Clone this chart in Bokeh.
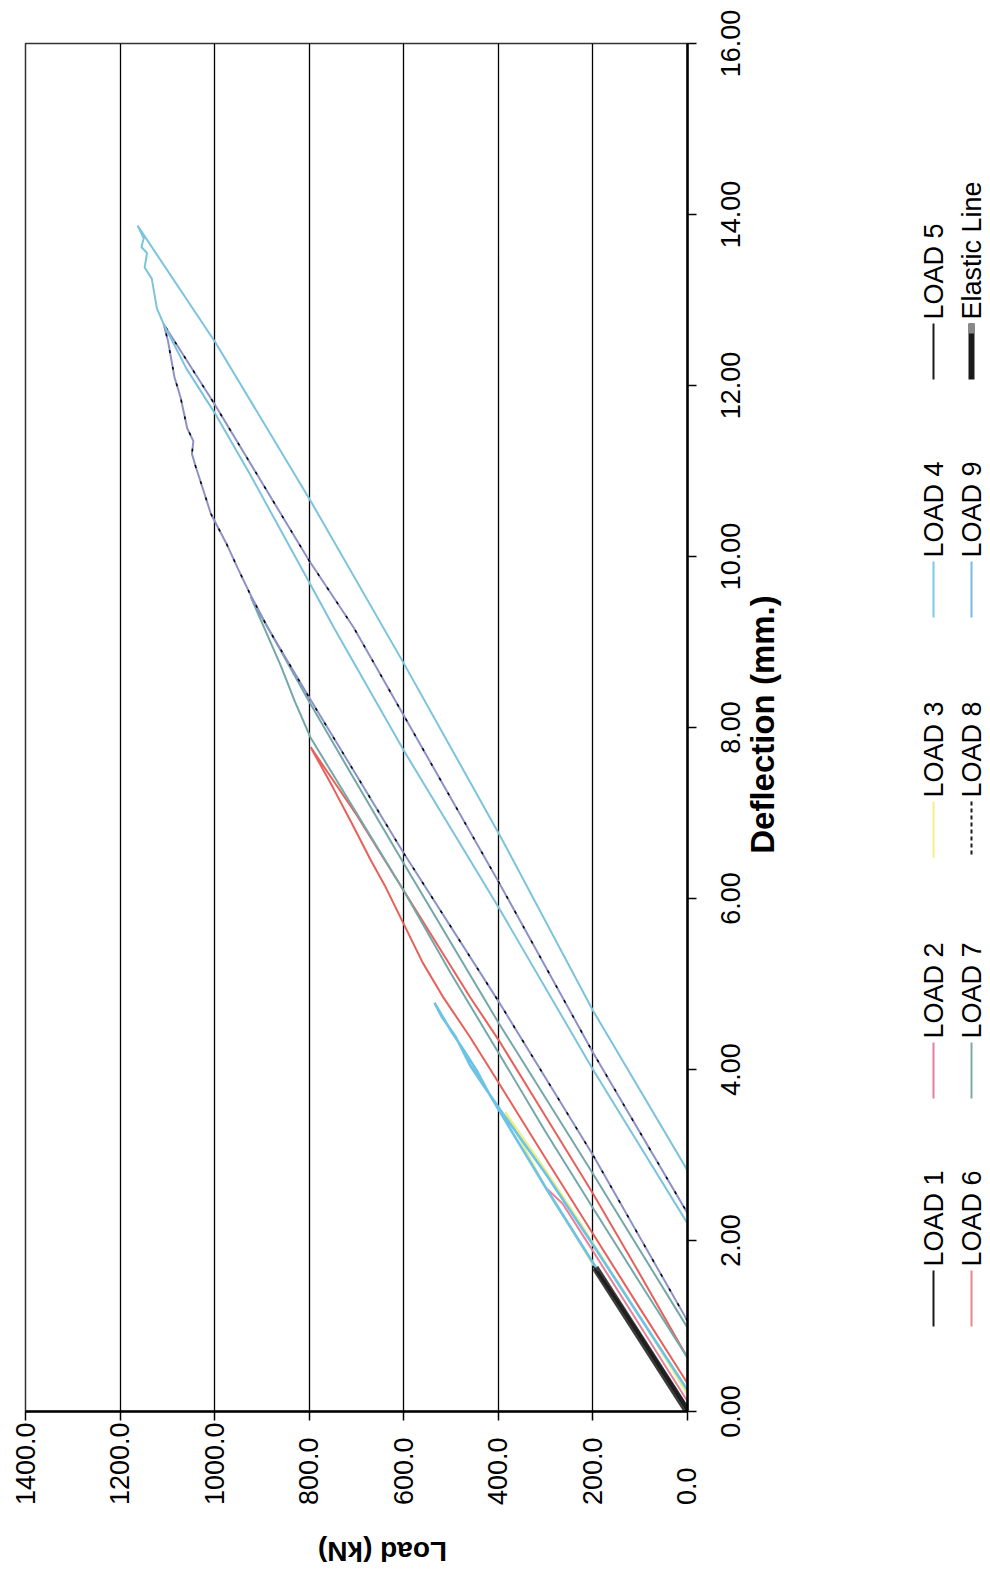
from math import pi
from bokeh.plotting import figure
from bokeh.layouts import column, row
from bokeh.models import Range1d, FixedTicker
from bokeh.core.properties import value
from bokeh.embed import file_html
from bokeh.resources import INLINE

# ---------------- data (Load in kN, Deflection in mm) ----------------
LOAD_TICKS = [0, 200, 400, 600, 800, 1000, 1200, 1400]
LOAD_LABELS = ["0.0", "200.0", "400.0", "600.0", "800.0", "1000.0", "1200.0", "1400.0"]
DEFL_TICKS = [0, 2, 4, 6, 8, 10, 12, 14, 16]
DEFL_LABELS = ["0.00", "2.00", "4.00", "6.00", "8.00", "10.00", "12.00", "14.00", "16.00"]

ELASTIC_P = [0, 195]
ELASTIC_D = [0, 1.68]

L1_P = [0, 50, 100, 150, 190, 150, 100, 50, 0]
L1_D = [0, 0.43, 0.86, 1.29, 1.64, 1.32, 0.90, 0.46, 0.03]

L2_P = [0, 100, 200, 264, 300, 264, 205, 100, 0]
L2_D = [0.03, 0.88, 1.74, 2.30, 2.62, 2.43, 1.92, 1.00, 0.12]

L3_P = [0, 100, 200, 300, 385, 300, 226, 100, 0]
L3_D = [0.02, 0.87, 1.72, 2.62, 3.50, 2.82, 2.20, 1.10, 0.20]

L4_P = [0, 100, 200, 300, 395, 420, 445, 470, 500, 535, 520, 490, 460, 430, 395, 300, 200, 100, 0]
L4_D = [0, 0.86, 1.74, 2.62, 3.49, 3.72, 3.98, 4.20, 4.45, 4.78, 4.62, 4.38, 4.05, 3.80, 3.52, 2.78, 1.95, 1.10, 0.25]

L5_P = [0, 100, 200, 100, 0]
L5_D = [0.02, 0.87, 1.70, 0.90, 0.05]

L6_P = [0, 100, 200, 300, 400, 460, 516, 560, 600, 640, 670, 710, 750, 797,
        700, 600, 459, 400, 300, 200, 100, 0]
L6_D = [0.33, 1.20, 2.08, 2.96, 3.85, 4.38, 4.84, 5.25, 5.70, 6.15, 6.45, 6.88, 7.30, 7.77,
        6.98, 6.09, 4.84, 4.35, 3.45, 2.55, 1.60, 0.63]

L7_P = [0, 100, 200, 300, 400, 500, 600, 700, 797, 830, 860, 890, 924,
        800, 700, 600, 400, 200, 0]
L7_D = [0.63, 1.50, 2.38, 3.27, 4.20, 5.12, 6.09, 7.00, 7.88, 8.30, 8.72, 9.10, 9.53,
        8.30, 7.35, 6.41, 4.55, 2.78, 0.98]

L8_P = [0, 200, 400, 600, 800, 888, 924, 950, 975, 1008, 1030, 1040, 1048, 1045, 1058, 1072, 1085, 1099, 1108,
        1000, 800, 706, 600, 400, 200, 0]
L8_D = [1.06, 3.00, 4.80, 6.53, 8.35, 9.17, 9.55, 9.85, 10.15, 10.50, 10.88, 11.05, 11.20, 11.35, 11.50, 11.86, 12.10, 12.53, 12.72,
        11.78, 9.95, 9.17, 8.14, 6.20, 4.20, 2.32]

L9_P = [0, 200, 400, 600, 748, 800, 924, 1000, 1060, 1108, 1122, 1133, 1148, 1143, 1155, 1150, 1163,
        998, 797, 600, 395, 200, 0]
L9_D = [2.20, 4.00, 5.90, 7.73, 9.17, 9.70, 10.95, 11.68, 12.20, 12.72, 12.90, 13.25, 13.38, 13.55, 13.62, 13.72, 13.87,
        12.50, 10.65, 8.75, 6.72, 4.69, 2.82]

SERIES = ["LOAD 1", "LOAD 2", "LOAD 3", "LOAD 4", "LOAD 5",
          "LOAD 6", "LOAD 7", "LOAD 8", "LOAD 9", "Elastic Line"]
COLORS = ["#1a1a1a", "#E8809A", "#EDED80", "#6CC3E6", "#202020",
          "#E8605A", "#74A8A8", "#8C92C8", "#7CC4DC", "#3b3b3b"]
LEGEND_COLORS = ["#1a1a1a", "#E57FA0", "#F2F08A", "#7CC8E8", "#1a1a1a",
                 "#E8868C", "#7FA8A8", "#1a1a1a", "#7CB8E0", "#1a1a1a"]

FONT = "Liberation Sans"

# ---------------- layout constants (pixels) ----------------
TOTAL_W, TOTAL_H = 988, 1571
FRAME_L, FRAME_T, FRAME_W, FRAME_H = 25, 43, 662, 1368
MAIN_R, MAIN_B = 14, 110
MAIN_W = FRAME_L + FRAME_W + MAIN_R
MAIN_H = FRAME_T + FRAME_H + MAIN_B
P_MAX, D_MAX = 1400, 16
PX_PER_KN = FRAME_W / P_MAX
PX_PER_MM = FRAME_H / D_MAX

# ---------------- main plot ----------------
p = figure(title=None, frame_width=FRAME_W, frame_height=FRAME_H,
           min_border_left=FRAME_L, min_border_right=MAIN_R, min_border_top=FRAME_T, min_border_bottom=MAIN_B,
           x_range=Range1d(P_MAX, 0), y_range=Range1d(0, D_MAX),
           y_axis_location="right", output_backend="svg", toolbar_location=None,
           background_fill_color="white", border_fill_color="white")

p.outline_line_color = "#333333"
p.outline_line_width = 1.5

p.xgrid.ticker = FixedTicker(ticks=LOAD_TICKS)
p.xgrid.grid_line_color = "black"
p.xgrid.grid_line_width = 1.3
p.ygrid.visible = False

p.xaxis.ticker = FixedTicker(ticks=LOAD_TICKS)
p.yaxis.ticker = FixedTicker(ticks=DEFL_TICKS)
for ax in (p.xaxis, p.yaxis):
    ax.axis_line_color = "black"
    ax.axis_line_width = 2.5
    ax.major_tick_line_color = "black"
    ax.major_tick_line_width = 1.5
    ax.major_tick_in = 0
    ax.major_tick_out = 9
    ax.minor_tick_line_color = None

# load-axis labels: rotated to read upwards, padded with figure spaces so that
# they all start on one line, as in the reference
FIGSP = "\u2007"
n_digits = max(sum(ch.isdigit() for ch in s) for s in LOAD_LABELS)
p.xaxis.major_label_overrides = {
    t: s + FIGSP * (n_digits - sum(ch.isdigit() for ch in s)) for t, s in zip(LOAD_TICKS, LOAD_LABELS)
}
p.xaxis.major_label_orientation = pi / 2
p.xaxis.major_label_standoff = 2
p.xaxis.major_label_text_font = FONT
p.xaxis.major_label_text_font_size = "27px"
p.xaxis.major_label_text_color = "black"

# deflection-axis labels are drawn in the right-hand panel
p.yaxis.major_label_text_color = None
p.yaxis.major_label_text_font_size = "0px"
p.yaxis.major_label_standoff = 0

lw = 2.0
p.line(L2_P, L2_D, color=COLORS[1], line_width=lw)
p.line(L3_P, L3_D, color=COLORS[2], line_width=lw)
p.line(L4_P, L4_D, color=COLORS[3], line_width=2.6)
p.line(ELASTIC_P, ELASTIC_D, color=COLORS[9], line_width=7)
p.line(L1_P, L1_D, color=COLORS[0], line_width=1.5)
p.line(L5_P, L5_D, color=COLORS[4], line_width=1.5)
p.line(L6_P, L6_D, color=COLORS[5], line_width=lw)
p.line(L7_P, L7_D, color=COLORS[6], line_width=lw)
p.line(L8_P, L8_D, color=COLORS[7], line_width=lw)
p.line(L8_P, L8_D, color="black", line_width=1.5, line_dash="3 14")
p.line(L9_P, L9_D, color=COLORS[8], line_width=lw)


def blank(fig):
    fig.xgrid.visible = False
    fig.ygrid.visible = False
    fig.outline_line_color = None
    return fig


# ---------------- bottom panel (under the plot, frames aligned): load-axis title ----------------
BOTTOM_H = TOTAL_H - MAIN_H
b = blank(figure(title=None, frame_width=FRAME_W, frame_height=BOTTOM_H,
                 min_border_left=FRAME_L, min_border_right=MAIN_R, min_border_top=0, min_border_bottom=0,
                 x_range=Range1d(FRAME_L, FRAME_L + FRAME_W), y_range=Range1d(TOTAL_H, MAIN_H),
                 x_axis_location=None, y_axis_location=None,
                 output_backend="svg", toolbar_location=None, border_fill_color="white"))
b.text(x=[382], y=[1551], text=["Load (kN)"], angle=pi,
       text_align="center", text_baseline="middle",
       text_font=value(FONT), text_font_size=value("28px"), text_font_style="bold", text_color="black")

# ---------------- right panel (full height): deflection tick labels, title, legend ----------------
RIGHT_W = TOTAL_W - MAIN_W
r = blank(figure(title=None, frame_width=RIGHT_W, frame_height=TOTAL_H,
                 min_border_left=0, min_border_right=0, min_border_top=0, min_border_bottom=0,
                 x_range=Range1d(MAIN_W, TOTAL_W),
                 y_range=Range1d(-(TOTAL_H - FRAME_T - FRAME_H) / PX_PER_MM, D_MAX + FRAME_T / PX_PER_MM),
                 x_axis_location=None, y_axis_location=None,
                 output_backend="svg", toolbar_location=None, border_fill_color="white"))
r.extra_y_ranges = {"px": Range1d(TOTAL_H, 0)}

r.text(x=[730] * len(DEFL_TICKS), y=DEFL_TICKS, text=DEFL_LABELS, angle=pi / 2,
       text_align="center", text_baseline="middle",
       text_font=value(FONT), text_font_size=value("27px"), text_color="black")
r.text(x=[762], y=[724], y_range_name="px", text=["Deflection (mm.)"], angle=pi / 2,
       text_align="center", text_baseline="middle",
       text_font=value(FONT), text_font_size=value("33px"), text_font_style="bold", text_color="black")

LEG_X = [933, 971]
LEG_Y = [1266, 1038, 797, 557, 319]
for i, name in enumerate(SERIES):
    cx = LEG_X[i // 5]
    ys = LEG_Y[i % 5]
    r.text(x=[cx], y=[ys], y_range_name="px", text=[name], angle=pi / 2,
           text_align="left", text_baseline="middle",
           text_font=value(FONT), text_font_size=value("27px"), text_color="black")
    if name == "LOAD 8":
        r.line([cx, cx], [ys + 4, ys + 60], y_range_name="px", color=LEGEND_COLORS[i],
               line_width=2, line_dash="4 3")
    elif name == "Elastic Line":
        r.line([cx, cx], [ys + 4, ys + 60], y_range_name="px", color=LEGEND_COLORS[i], line_width=6)
        r.line([cx, cx], [ys + 4, ys + 14], y_range_name="px", color="#888888", line_width=6)
    else:
        r.line([cx, cx], [ys + 4, ys + 60], y_range_name="px", color=LEGEND_COLORS[i], line_width=2)

layout = row(column(p, b, spacing=0), r, spacing=0)
open("out.html", "w").write(file_html(layout, INLINE))
